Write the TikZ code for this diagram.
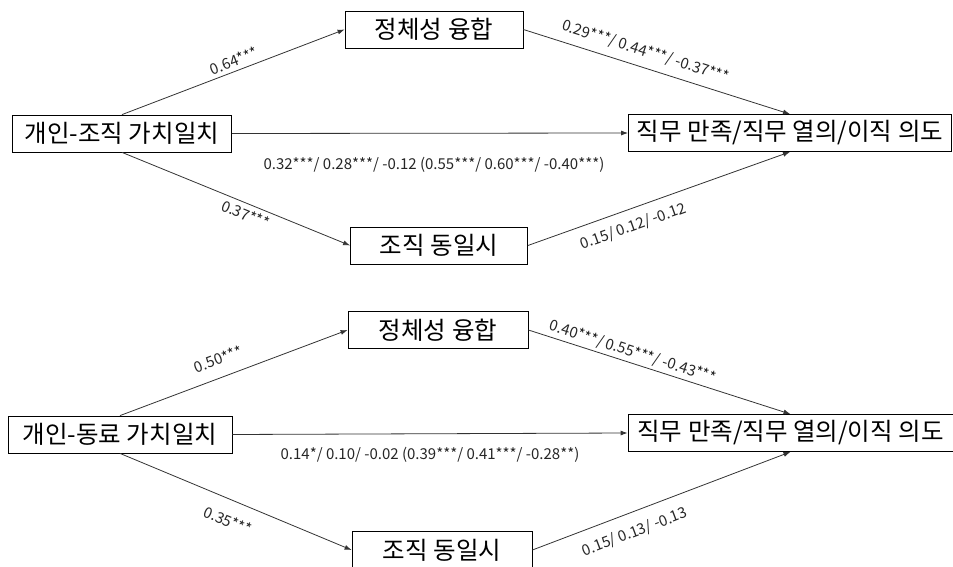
\documentclass[tikz,border=0pt]{standalone}
\usepackage{fontspec}
\setmainfont{Noto Sans CJK KR}
\usetikzlibrary{arrows.meta}

\definecolor{linecolor}{rgb}{0.20,0.20,0.20}

\begin{document}
\begin{tikzpicture}[
    x=1pt, y=1pt,
    %% Box centres (top model):    y = 536.5 / 432.5 / 320.5
    %% Box centres (bottom model): y = 236 / 133 / 16
    var/.style={draw=black, line width=0.8pt, minimum height=37pt,
                inner sep=0pt, align=center, font=\fontsize{24.5}{28}\selectfont},
    path/.style={draw=linecolor, line width=0.8pt,
                 -{Latex[length=7pt, width=5pt]}},
    coef/.style={font=\fontsize{15}{17}\selectfont, text=black!85, inner sep=0pt},
]

\useasboundingbox (0,0) rectangle (953,566);

%% ── Top model: person-organisation fit ─────────────────────────────────
\node[var, minimum width=219pt] (vp1) at (122,432.5) {개인-조직 가치일치};
\node[var, minimum width=178pt] (fu1) at (434,536.5) {정체성 융합};
\node[var, minimum width=177pt] (id1) at (439,320.5) {조직 동일시};
\node[var, minimum width=323pt] (out1) at (790,433) {직무 만족/직무 열의/이직 의도};

\draw[path] (vp1.north) -- node[coef, sloped, above=4pt, pos=0.52] {0.64***} (fu1.west);
\draw[path] (vp1.south) -- node[coef, sloped, below=4pt, pos=0.56] {0.37***} (id1.west);
\draw[path] (vp1.east) -- node[coef, below=24pt, pos=0.51]
    {0.32***/ 0.28***/ -0.12 (0.55***/ 0.60***/ -0.40***)} (out1.west);
\draw[path] (fu1.east) -- node[coef, sloped, above=8pt, pos=0.44]
    {0.29***/ 0.44***/ -0.37***} (out1.north);
\draw[path] (id1.east) -- node[coef, sloped, below=10pt, pos=0.38]
    {0.15/ 0.12/ -0.12} (out1.south);

%% ── Bottom model: person-coworker fit ──────────────────────────────────
\node[var, minimum width=224pt] (vp2) at (120,131.5) {개인-동료 가치일치};
\node[var, minimum width=180pt] (fu2) at (438,236) {정체성 융합};
\node[var, minimum width=180pt] (id2) at (442,16) {조직 동일시};
\node[var, minimum width=325pt] (out2) at (790.5,133) {직무 만족/직무 열의/이직 의도};

\draw[path] (vp2.north) -- node[coef, sloped, above=12pt, pos=0.46] {0.50***} (fu2.west);
\draw[path] (vp2.south) -- node[coef, sloped, below=14pt, pos=0.5] {0.35***} (id2.west);
\draw[path] (vp2.east) -- node[coef, below=13pt, pos=0.5]
    {0.14*/ 0.10/ -0.02 (0.39***/ 0.41***/ -0.28**)} (out2.west);
\draw[path] (fu2.east) -- node[coef, sloped, above=3pt, pos=0.385]
    {0.40***/ 0.55***/ -0.43***} (out2.north);
\draw[path] (id2.east) -- node[coef, sloped, below=12pt, pos=0.37]
    {0.15/ 0.13/ -0.13} (out2.south);

\end{tikzpicture}
\end{document}
